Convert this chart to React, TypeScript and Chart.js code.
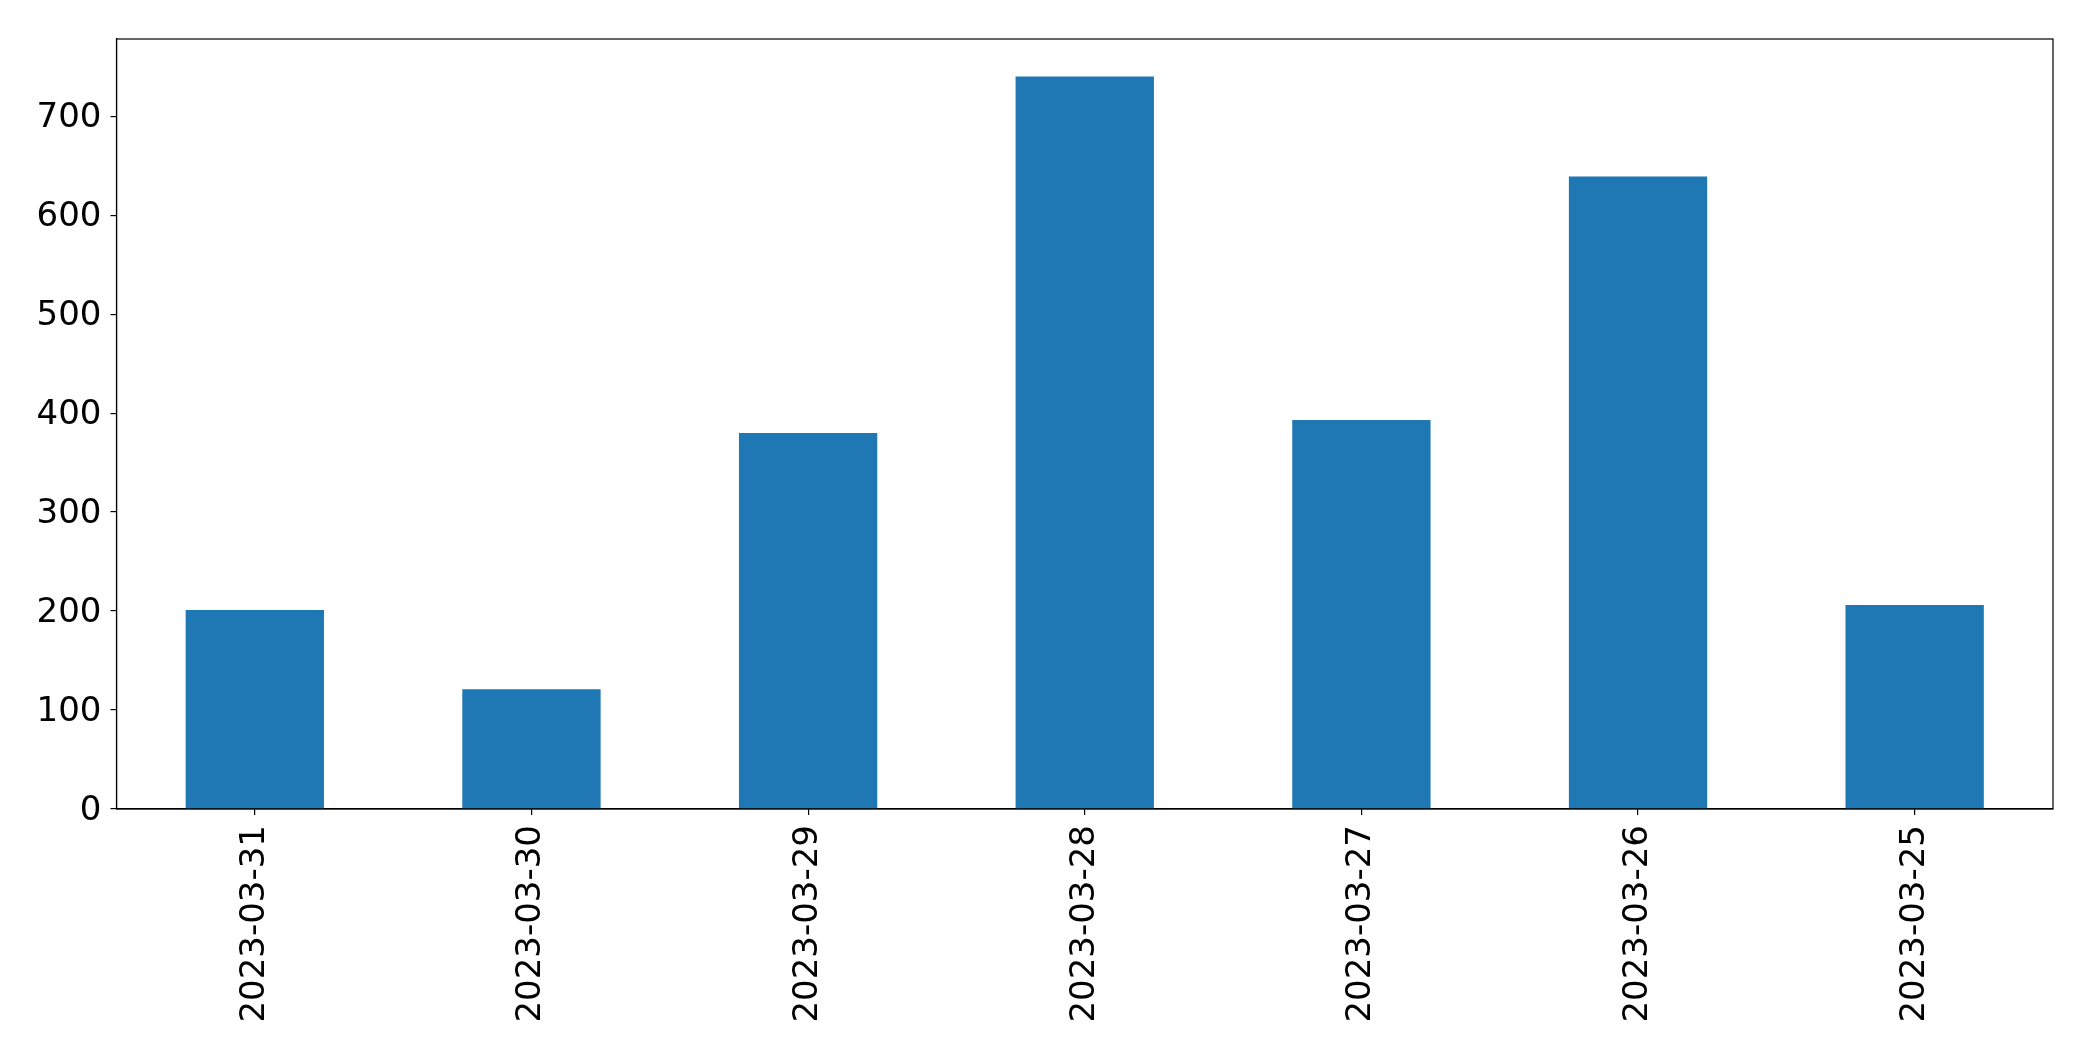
import React, { useEffect, useRef } from "react";
import { Chart, registerables } from "chart.js";

Chart.register(...registerables);

const categories = [
  "2023-03-31",
  "2023-03-30",
  "2023-03-29",
  "2023-03-28",
  "2023-03-27",
  "2023-03-26",
  "2023-03-25",
];
const values = [201, 121, 380, 740, 393, 639, 206];
const yTickStep = 100;
const yMax = 778;

const FONT = "'DejaVu Sans', sans-serif";

export default function App() {
  const ref = useRef<HTMLCanvasElement | null>(null);

  useEffect(() => {
    document.body.style.margin = "0";
    const canvas = ref.current;
    if (!canvas) return;

    const framePlugin = {
      id: "frame",
      afterDraw(chart: any) {
        const { ctx, chartArea } = chart;
        ctx.save();
        ctx.strokeStyle = "#000";
        ctx.lineWidth = 1.2;
        ctx.strokeRect(
          chartArea.left,
          chartArea.top,
          chartArea.right - chartArea.left,
          chartArea.bottom - chartArea.top
        );
        ctx.restore();
      },
    };

    const chart = new Chart(canvas, {
      type: "bar",
      data: {
        labels: categories,
        datasets: [
          {
            data: values,
            backgroundColor: "#1f77b4",
            borderWidth: 0,
            barPercentage: 0.5,
            categoryPercentage: 1,
          },
        ],
      },
      options: {
        animation: false,
        responsive: false,
        maintainAspectRatio: false,
        devicePixelRatio: 1,
        layout: { padding: { top: 39, right: 40, left: 0, bottom: 0 } },
        plugins: {
          legend: { display: false },
          tooltip: { enabled: false },
        },
        scales: {
          x: {
            grid: {
              display: true,
              offset: false,
              drawOnChartArea: false,
              drawTicks: true,
              tickLength: 6,
              color: "#000",
              lineWidth: 1.2,
            },
            border: { display: true, color: "#000", width: 1.2 },
            ticks: {
              color: "#000",
              font: { family: FONT, size: 34 },
              minRotation: 90,
              maxRotation: 90,
              padding: 10,
              autoSkip: false,
            },
            afterFit(scale: any) {
              scale.height = 1061 - 809;
            },
          },
          y: {
            min: 0,
            max: yMax,
            grid: {
              display: true,
              drawOnChartArea: false,
              drawTicks: true,
              tickLength: 6,
              color: "#000",
              lineWidth: 1.2,
            },
            border: { display: true, color: "#000", width: 1.2 },
            ticks: {
              stepSize: yTickStep,
              color: "#000",
              font: { family: FONT, size: 34 },
              padding: 9,
              labelOffset: 2,
            },
            afterBuildTicks(scale: any) {
              scale.ticks = scale.ticks.filter(
                (t: any) => t.value % yTickStep === 0
              );
            },
            afterFit(scale: any) {
              scale.width = 116.5;
            },
          },
        },
      },
      plugins: [framePlugin],
    });

    return () => chart.destroy();
  }, []);

  return (
    <div style={{ width: 2093, height: 1061, background: "#fff" }}>
      <canvas ref={ref} width={2093} height={1061} style={{ display: "block" }} />
    </div>
  );
}
